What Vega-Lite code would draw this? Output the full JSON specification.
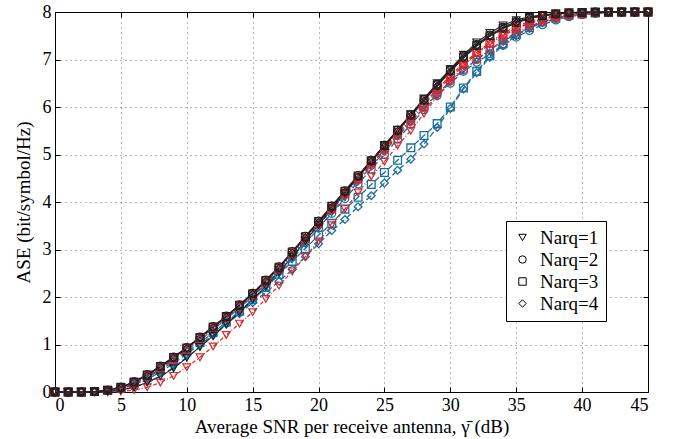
{
"$schema":"https://vega.github.io/schema/vega-lite/v6.json",
"width":593,"height":380,
"autosize":{"type":"none"},
"padding":{"left":55,"top":12,"right":40,"bottom":47},
"background":"white",
"config":{"font":"Liberation Serif","view":{"stroke":"black","strokeWidth":1},
"axis":{"labelFont":"Liberation Serif","titleFont":"Liberation Serif","labelFontSize":18,"titleFontSize":19,"titleFontWeight":"normal","labelColor":"black","titleColor":"black","domain":false,"tickColor":"black","tickSize":-5,"labelPadding":9}},
"data":{"values":[
{"g":"blue","n":1,"x":0,"y":0},{"g":"blue","n":1,"x":1,"y":0},{"g":"blue","n":1,"x":2,"y":0},{"g":"blue","n":1,"x":3,"y":0},{"g":"blue","n":1,"x":4,"y":0.01},{"g":"blue","n":1,"x":5,"y":0.04},{"g":"blue","n":1,"x":6,"y":0.1},{"g":"blue","n":1,"x":7,"y":0.2},{"g":"blue","n":1,"x":8,"y":0.34},{"g":"blue","n":1,"x":9,"y":0.52},{"g":"blue","n":1,"x":10,"y":0.73},{"g":"blue","n":1,"x":11,"y":0.95},{"g":"blue","n":1,"x":12,"y":1.18},{"g":"blue","n":1,"x":13,"y":1.42},{"g":"blue","n":1,"x":14,"y":1.67},{"g":"blue","n":1,"x":15,"y":1.93},{"g":"blue","n":1,"x":16,"y":2.2},{"g":"blue","n":1,"x":17,"y":2.49},{"g":"blue","n":1,"x":18,"y":2.8},{"g":"blue","n":1,"x":19,"y":3.12},{"g":"blue","n":1,"x":20,"y":3.45},{"g":"blue","n":1,"x":21,"y":3.78},{"g":"blue","n":1,"x":22,"y":4.1},{"g":"blue","n":1,"x":23,"y":4.43},{"g":"blue","n":1,"x":24,"y":4.75},{"g":"blue","n":1,"x":25,"y":5.06},{"g":"blue","n":1,"x":26,"y":5.38},{"g":"blue","n":1,"x":27,"y":5.68},{"g":"blue","n":1,"x":28,"y":5.98},{"g":"blue","n":1,"x":29,"y":6.27},{"g":"blue","n":1,"x":30,"y":6.54},{"g":"blue","n":1,"x":31,"y":6.78},{"g":"blue","n":1,"x":32,"y":7.0},{"g":"blue","n":1,"x":33,"y":7.2},{"g":"blue","n":1,"x":34,"y":7.38},{"g":"blue","n":1,"x":35,"y":7.54},{"g":"blue","n":1,"x":36,"y":7.67},{"g":"blue","n":1,"x":37,"y":7.77},{"g":"blue","n":1,"x":38,"y":7.85},{"g":"blue","n":1,"x":39,"y":7.91},{"g":"blue","n":1,"x":40,"y":7.95},{"g":"blue","n":1,"x":41,"y":7.97},{"g":"blue","n":1,"x":42,"y":7.99},{"g":"blue","n":1,"x":43,"y":8},{"g":"blue","n":1,"x":44,"y":8},{"g":"blue","n":1,"x":45,"y":8},
{"g":"blue","n":2,"x":0,"y":0},{"g":"blue","n":2,"x":1,"y":0},{"g":"blue","n":2,"x":2,"y":0},{"g":"blue","n":2,"x":3,"y":0.01},{"g":"blue","n":2,"x":4,"y":0.03},{"g":"blue","n":2,"x":5,"y":0.08},{"g":"blue","n":2,"x":6,"y":0.18},{"g":"blue","n":2,"x":7,"y":0.32},{"g":"blue","n":2,"x":8,"y":0.49},{"g":"blue","n":2,"x":9,"y":0.68},{"g":"blue","n":2,"x":10,"y":0.88},{"g":"blue","n":2,"x":11,"y":1.09},{"g":"blue","n":2,"x":12,"y":1.31},{"g":"blue","n":2,"x":13,"y":1.54},{"g":"blue","n":2,"x":14,"y":1.77},{"g":"blue","n":2,"x":15,"y":2.01},{"g":"blue","n":2,"x":16,"y":2.27},{"g":"blue","n":2,"x":17,"y":2.54},{"g":"blue","n":2,"x":18,"y":2.84},{"g":"blue","n":2,"x":19,"y":3.14},{"g":"blue","n":2,"x":20,"y":3.45},{"g":"blue","n":2,"x":21,"y":3.76},{"g":"blue","n":2,"x":22,"y":4.07},{"g":"blue","n":2,"x":23,"y":4.38},{"g":"blue","n":2,"x":24,"y":4.69},{"g":"blue","n":2,"x":25,"y":5.0},{"g":"blue","n":2,"x":26,"y":5.32},{"g":"blue","n":2,"x":27,"y":5.63},{"g":"blue","n":2,"x":28,"y":5.94},{"g":"blue","n":2,"x":29,"y":6.24},{"g":"blue","n":2,"x":30,"y":6.5},{"g":"blue","n":2,"x":31,"y":6.75},{"g":"blue","n":2,"x":32,"y":6.94},{"g":"blue","n":2,"x":33,"y":7.12},{"g":"blue","n":2,"x":34,"y":7.3},{"g":"blue","n":2,"x":35,"y":7.47},{"g":"blue","n":2,"x":36,"y":7.61},{"g":"blue","n":2,"x":37,"y":7.73},{"g":"blue","n":2,"x":38,"y":7.83},{"g":"blue","n":2,"x":39,"y":7.9},{"g":"blue","n":2,"x":40,"y":7.94},{"g":"blue","n":2,"x":41,"y":7.97},{"g":"blue","n":2,"x":42,"y":7.99},{"g":"blue","n":2,"x":43,"y":8},{"g":"blue","n":2,"x":44,"y":8},{"g":"blue","n":2,"x":45,"y":8},
{"g":"blue","n":3,"x":0,"y":0},{"g":"blue","n":3,"x":1,"y":0},{"g":"blue","n":3,"x":2,"y":0},{"g":"blue","n":3,"x":3,"y":0.01},{"g":"blue","n":3,"x":4,"y":0.03},{"g":"blue","n":3,"x":5,"y":0.08},{"g":"blue","n":3,"x":6,"y":0.17},{"g":"blue","n":3,"x":7,"y":0.3},{"g":"blue","n":3,"x":8,"y":0.46},{"g":"blue","n":3,"x":9,"y":0.64},{"g":"blue","n":3,"x":10,"y":0.84},{"g":"blue","n":3,"x":11,"y":1.04},{"g":"blue","n":3,"x":12,"y":1.25},{"g":"blue","n":3,"x":13,"y":1.47},{"g":"blue","n":3,"x":14,"y":1.7},{"g":"blue","n":3,"x":15,"y":1.95},{"g":"blue","n":3,"x":16,"y":2.2},{"g":"blue","n":3,"x":17,"y":2.48},{"g":"blue","n":3,"x":18,"y":2.75},{"g":"blue","n":3,"x":19,"y":3.02},{"g":"blue","n":3,"x":20,"y":3.3},{"g":"blue","n":3,"x":21,"y":3.55},{"g":"blue","n":3,"x":22,"y":3.85},{"g":"blue","n":3,"x":23,"y":4.1},{"g":"blue","n":3,"x":24,"y":4.37},{"g":"blue","n":3,"x":25,"y":4.62},{"g":"blue","n":3,"x":26,"y":4.88},{"g":"blue","n":3,"x":27,"y":5.14},{"g":"blue","n":3,"x":28,"y":5.4},{"g":"blue","n":3,"x":29,"y":5.65},{"g":"blue","n":3,"x":30,"y":6.0},{"g":"blue","n":3,"x":31,"y":6.4},{"g":"blue","n":3,"x":32,"y":6.75},{"g":"blue","n":3,"x":33,"y":7.08},{"g":"blue","n":3,"x":34,"y":7.33},{"g":"blue","n":3,"x":35,"y":7.52},{"g":"blue","n":3,"x":36,"y":7.67},{"g":"blue","n":3,"x":37,"y":7.79},{"g":"blue","n":3,"x":38,"y":7.87},{"g":"blue","n":3,"x":39,"y":7.93},{"g":"blue","n":3,"x":40,"y":7.96},{"g":"blue","n":3,"x":41,"y":7.98},{"g":"blue","n":3,"x":42,"y":7.99},{"g":"blue","n":3,"x":43,"y":8},{"g":"blue","n":3,"x":44,"y":8},{"g":"blue","n":3,"x":45,"y":8},
{"g":"blue","n":4,"x":0,"y":0},{"g":"blue","n":4,"x":1,"y":0},{"g":"blue","n":4,"x":2,"y":0},{"g":"blue","n":4,"x":3,"y":0.01},{"g":"blue","n":4,"x":4,"y":0.03},{"g":"blue","n":4,"x":5,"y":0.07},{"g":"blue","n":4,"x":6,"y":0.15},{"g":"blue","n":4,"x":7,"y":0.27},{"g":"blue","n":4,"x":8,"y":0.42},{"g":"blue","n":4,"x":9,"y":0.6},{"g":"blue","n":4,"x":10,"y":0.8},{"g":"blue","n":4,"x":11,"y":1.0},{"g":"blue","n":4,"x":12,"y":1.2},{"g":"blue","n":4,"x":13,"y":1.43},{"g":"blue","n":4,"x":14,"y":1.65},{"g":"blue","n":4,"x":15,"y":1.88},{"g":"blue","n":4,"x":16,"y":2.1},{"g":"blue","n":4,"x":17,"y":2.33},{"g":"blue","n":4,"x":18,"y":2.58},{"g":"blue","n":4,"x":19,"y":2.85},{"g":"blue","n":4,"x":20,"y":3.12},{"g":"blue","n":4,"x":21,"y":3.4},{"g":"blue","n":4,"x":22,"y":3.63},{"g":"blue","n":4,"x":23,"y":3.9},{"g":"blue","n":4,"x":24,"y":4.13},{"g":"blue","n":4,"x":25,"y":4.4},{"g":"blue","n":4,"x":26,"y":4.67},{"g":"blue","n":4,"x":27,"y":4.9},{"g":"blue","n":4,"x":28,"y":5.22},{"g":"blue","n":4,"x":29,"y":5.57},{"g":"blue","n":4,"x":30,"y":5.97},{"g":"blue","n":4,"x":31,"y":6.38},{"g":"blue","n":4,"x":32,"y":6.72},{"g":"blue","n":4,"x":33,"y":7.05},{"g":"blue","n":4,"x":34,"y":7.3},{"g":"blue","n":4,"x":35,"y":7.5},{"g":"blue","n":4,"x":36,"y":7.66},{"g":"blue","n":4,"x":37,"y":7.78},{"g":"blue","n":4,"x":38,"y":7.87},{"g":"blue","n":4,"x":39,"y":7.93},{"g":"blue","n":4,"x":40,"y":7.96},{"g":"blue","n":4,"x":41,"y":7.98},{"g":"blue","n":4,"x":42,"y":7.99},{"g":"blue","n":4,"x":43,"y":8},{"g":"blue","n":4,"x":44,"y":8},{"g":"blue","n":4,"x":45,"y":8},
{"g":"red","n":1,"x":0,"y":0},{"g":"red","n":1,"x":1,"y":0},{"g":"red","n":1,"x":2,"y":0},{"g":"red","n":1,"x":3,"y":0},{"g":"red","n":1,"x":4,"y":0},{"g":"red","n":1,"x":5,"y":0.01},{"g":"red","n":1,"x":6,"y":0.04},{"g":"red","n":1,"x":7,"y":0.1},{"g":"red","n":1,"x":8,"y":0.2},{"g":"red","n":1,"x":9,"y":0.34},{"g":"red","n":1,"x":10,"y":0.52},{"g":"red","n":1,"x":11,"y":0.73},{"g":"red","n":1,"x":12,"y":0.96},{"g":"red","n":1,"x":13,"y":1.2},{"g":"red","n":1,"x":14,"y":1.44},{"g":"red","n":1,"x":15,"y":1.68},{"g":"red","n":1,"x":16,"y":1.96},{"g":"red","n":1,"x":17,"y":2.24},{"g":"red","n":1,"x":18,"y":2.54},{"g":"red","n":1,"x":19,"y":2.85},{"g":"red","n":1,"x":20,"y":3.17},{"g":"red","n":1,"x":21,"y":3.51},{"g":"red","n":1,"x":22,"y":3.85},{"g":"red","n":1,"x":23,"y":4.2},{"g":"red","n":1,"x":24,"y":4.54},{"g":"red","n":1,"x":25,"y":4.85},{"g":"red","n":1,"x":26,"y":5.19},{"g":"red","n":1,"x":27,"y":5.5},{"g":"red","n":1,"x":28,"y":5.86},{"g":"red","n":1,"x":29,"y":6.22},{"g":"red","n":1,"x":30,"y":6.52},{"g":"red","n":1,"x":31,"y":6.88},{"g":"red","n":1,"x":32,"y":7.13},{"g":"red","n":1,"x":33,"y":7.36},{"g":"red","n":1,"x":34,"y":7.55},{"g":"red","n":1,"x":35,"y":7.7},{"g":"red","n":1,"x":36,"y":7.8},{"g":"red","n":1,"x":37,"y":7.88},{"g":"red","n":1,"x":38,"y":7.93},{"g":"red","n":1,"x":39,"y":7.96},{"g":"red","n":1,"x":40,"y":7.98},{"g":"red","n":1,"x":41,"y":7.99},{"g":"red","n":1,"x":42,"y":8},{"g":"red","n":1,"x":43,"y":8},{"g":"red","n":1,"x":44,"y":8},{"g":"red","n":1,"x":45,"y":8},
{"g":"red","n":2,"x":0,"y":0},{"g":"red","n":2,"x":1,"y":0},{"g":"red","n":2,"x":2,"y":0},{"g":"red","n":2,"x":3,"y":0.01},{"g":"red","n":2,"x":4,"y":0.03},{"g":"red","n":2,"x":5,"y":0.08},{"g":"red","n":2,"x":6,"y":0.18},{"g":"red","n":2,"x":7,"y":0.32},{"g":"red","n":2,"x":8,"y":0.49},{"g":"red","n":2,"x":9,"y":0.68},{"g":"red","n":2,"x":10,"y":0.88},{"g":"red","n":2,"x":11,"y":1.1},{"g":"red","n":2,"x":12,"y":1.32},{"g":"red","n":2,"x":13,"y":1.55},{"g":"red","n":2,"x":14,"y":1.79},{"g":"red","n":2,"x":15,"y":2.03},{"g":"red","n":2,"x":16,"y":2.3},{"g":"red","n":2,"x":17,"y":2.58},{"g":"red","n":2,"x":18,"y":2.89},{"g":"red","n":2,"x":19,"y":3.2},{"g":"red","n":2,"x":20,"y":3.52},{"g":"red","n":2,"x":21,"y":3.83},{"g":"red","n":2,"x":22,"y":4.15},{"g":"red","n":2,"x":23,"y":4.46},{"g":"red","n":2,"x":24,"y":4.77},{"g":"red","n":2,"x":25,"y":5.08},{"g":"red","n":2,"x":26,"y":5.4},{"g":"red","n":2,"x":27,"y":5.7},{"g":"red","n":2,"x":28,"y":6.0},{"g":"red","n":2,"x":29,"y":6.28},{"g":"red","n":2,"x":30,"y":6.55},{"g":"red","n":2,"x":31,"y":6.78},{"g":"red","n":2,"x":32,"y":7.0},{"g":"red","n":2,"x":33,"y":7.2},{"g":"red","n":2,"x":34,"y":7.4},{"g":"red","n":2,"x":35,"y":7.57},{"g":"red","n":2,"x":36,"y":7.7},{"g":"red","n":2,"x":37,"y":7.8},{"g":"red","n":2,"x":38,"y":7.88},{"g":"red","n":2,"x":39,"y":7.93},{"g":"red","n":2,"x":40,"y":7.96},{"g":"red","n":2,"x":41,"y":7.98},{"g":"red","n":2,"x":42,"y":7.99},{"g":"red","n":2,"x":43,"y":8},{"g":"red","n":2,"x":44,"y":8},{"g":"red","n":2,"x":45,"y":8},
{"g":"red","n":3,"x":0,"y":0},{"g":"red","n":3,"x":1,"y":0},{"g":"red","n":3,"x":2,"y":0},{"g":"red","n":3,"x":3,"y":0.01},{"g":"red","n":3,"x":4,"y":0.04},{"g":"red","n":3,"x":5,"y":0.09},{"g":"red","n":3,"x":6,"y":0.2},{"g":"red","n":3,"x":7,"y":0.34},{"g":"red","n":3,"x":8,"y":0.52},{"g":"red","n":3,"x":9,"y":0.71},{"g":"red","n":3,"x":10,"y":0.91},{"g":"red","n":3,"x":11,"y":1.13},{"g":"red","n":3,"x":12,"y":1.35},{"g":"red","n":3,"x":13,"y":1.57},{"g":"red","n":3,"x":14,"y":1.81},{"g":"red","n":3,"x":15,"y":2.05},{"g":"red","n":3,"x":16,"y":2.32},{"g":"red","n":3,"x":17,"y":2.6},{"g":"red","n":3,"x":18,"y":2.92},{"g":"red","n":3,"x":19,"y":3.23},{"g":"red","n":3,"x":20,"y":3.55},{"g":"red","n":3,"x":21,"y":3.87},{"g":"red","n":3,"x":22,"y":4.19},{"g":"red","n":3,"x":23,"y":4.5},{"g":"red","n":3,"x":24,"y":4.82},{"g":"red","n":3,"x":25,"y":5.14},{"g":"red","n":3,"x":26,"y":5.46},{"g":"red","n":3,"x":27,"y":5.77},{"g":"red","n":3,"x":28,"y":6.08},{"g":"red","n":3,"x":29,"y":6.38},{"g":"red","n":3,"x":30,"y":6.66},{"g":"red","n":3,"x":31,"y":6.92},{"g":"red","n":3,"x":32,"y":7.15},{"g":"red","n":3,"x":33,"y":7.35},{"g":"red","n":3,"x":34,"y":7.52},{"g":"red","n":3,"x":35,"y":7.66},{"g":"red","n":3,"x":36,"y":7.77},{"g":"red","n":3,"x":37,"y":7.85},{"g":"red","n":3,"x":38,"y":7.91},{"g":"red","n":3,"x":39,"y":7.95},{"g":"red","n":3,"x":40,"y":7.97},{"g":"red","n":3,"x":41,"y":7.99},{"g":"red","n":3,"x":42,"y":8},{"g":"red","n":3,"x":43,"y":8},{"g":"red","n":3,"x":44,"y":8},{"g":"red","n":3,"x":45,"y":8},
{"g":"red","n":4,"x":0,"y":0},{"g":"red","n":4,"x":1,"y":0},{"g":"red","n":4,"x":2,"y":0},{"g":"red","n":4,"x":3,"y":0.01},{"g":"red","n":4,"x":4,"y":0.03},{"g":"red","n":4,"x":5,"y":0.09},{"g":"red","n":4,"x":6,"y":0.19},{"g":"red","n":4,"x":7,"y":0.33},{"g":"red","n":4,"x":8,"y":0.51},{"g":"red","n":4,"x":9,"y":0.7},{"g":"red","n":4,"x":10,"y":0.9},{"g":"red","n":4,"x":11,"y":1.12},{"g":"red","n":4,"x":12,"y":1.34},{"g":"red","n":4,"x":13,"y":1.56},{"g":"red","n":4,"x":14,"y":1.8},{"g":"red","n":4,"x":15,"y":2.04},{"g":"red","n":4,"x":16,"y":2.31},{"g":"red","n":4,"x":17,"y":2.59},{"g":"red","n":4,"x":18,"y":2.9},{"g":"red","n":4,"x":19,"y":3.21},{"g":"red","n":4,"x":20,"y":3.53},{"g":"red","n":4,"x":21,"y":3.85},{"g":"red","n":4,"x":22,"y":4.16},{"g":"red","n":4,"x":23,"y":4.48},{"g":"red","n":4,"x":24,"y":4.79},{"g":"red","n":4,"x":25,"y":5.11},{"g":"red","n":4,"x":26,"y":5.43},{"g":"red","n":4,"x":27,"y":5.74},{"g":"red","n":4,"x":28,"y":6.04},{"g":"red","n":4,"x":29,"y":6.34},{"g":"red","n":4,"x":30,"y":6.62},{"g":"red","n":4,"x":31,"y":6.88},{"g":"red","n":4,"x":32,"y":7.12},{"g":"red","n":4,"x":33,"y":7.32},{"g":"red","n":4,"x":34,"y":7.5},{"g":"red","n":4,"x":35,"y":7.64},{"g":"red","n":4,"x":36,"y":7.76},{"g":"red","n":4,"x":37,"y":7.84},{"g":"red","n":4,"x":38,"y":7.9},{"g":"red","n":4,"x":39,"y":7.94},{"g":"red","n":4,"x":40,"y":7.97},{"g":"red","n":4,"x":41,"y":7.99},{"g":"red","n":4,"x":42,"y":8},{"g":"red","n":4,"x":43,"y":8},{"g":"red","n":4,"x":44,"y":8},{"g":"red","n":4,"x":45,"y":8},
{"g":"black","n":1,"x":0,"y":0},{"g":"black","n":1,"x":1,"y":0},{"g":"black","n":1,"x":2,"y":0},{"g":"black","n":1,"x":3,"y":0},{"g":"black","n":1,"x":4,"y":0.01},{"g":"black","n":1,"x":5,"y":0.04},{"g":"black","n":1,"x":6,"y":0.1},{"g":"black","n":1,"x":7,"y":0.2},{"g":"black","n":1,"x":8,"y":0.33},{"g":"black","n":1,"x":9,"y":0.5},{"g":"black","n":1,"x":10,"y":0.72},{"g":"black","n":1,"x":11,"y":0.95},{"g":"black","n":1,"x":12,"y":1.18},{"g":"black","n":1,"x":13,"y":1.43},{"g":"black","n":1,"x":14,"y":1.68},{"g":"black","n":1,"x":15,"y":1.95},{"g":"black","n":1,"x":16,"y":2.23},{"g":"black","n":1,"x":17,"y":2.52},{"g":"black","n":1,"x":18,"y":2.85},{"g":"black","n":1,"x":19,"y":3.18},{"g":"black","n":1,"x":20,"y":3.52},{"g":"black","n":1,"x":21,"y":3.85},{"g":"black","n":1,"x":22,"y":4.18},{"g":"black","n":1,"x":23,"y":4.52},{"g":"black","n":1,"x":24,"y":4.86},{"g":"black","n":1,"x":25,"y":5.19},{"g":"black","n":1,"x":26,"y":5.52},{"g":"black","n":1,"x":27,"y":5.85},{"g":"black","n":1,"x":28,"y":6.18},{"g":"black","n":1,"x":29,"y":6.5},{"g":"black","n":1,"x":30,"y":6.8},{"g":"black","n":1,"x":31,"y":7.1},{"g":"black","n":1,"x":32,"y":7.36},{"g":"black","n":1,"x":33,"y":7.56},{"g":"black","n":1,"x":34,"y":7.72},{"g":"black","n":1,"x":35,"y":7.83},{"g":"black","n":1,"x":36,"y":7.9},{"g":"black","n":1,"x":37,"y":7.94},{"g":"black","n":1,"x":38,"y":7.97},{"g":"black","n":1,"x":39,"y":7.99},{"g":"black","n":1,"x":40,"y":8},{"g":"black","n":1,"x":41,"y":8},{"g":"black","n":1,"x":42,"y":8},{"g":"black","n":1,"x":43,"y":8},{"g":"black","n":1,"x":44,"y":8},{"g":"black","n":1,"x":45,"y":8},
{"g":"black","n":2,"x":0,"y":0},{"g":"black","n":2,"x":1,"y":0},{"g":"black","n":2,"x":2,"y":0},{"g":"black","n":2,"x":3,"y":0.01},{"g":"black","n":2,"x":4,"y":0.04},{"g":"black","n":2,"x":5,"y":0.1},{"g":"black","n":2,"x":6,"y":0.22},{"g":"black","n":2,"x":7,"y":0.37},{"g":"black","n":2,"x":8,"y":0.55},{"g":"black","n":2,"x":9,"y":0.74},{"g":"black","n":2,"x":10,"y":0.94},{"g":"black","n":2,"x":11,"y":1.16},{"g":"black","n":2,"x":12,"y":1.38},{"g":"black","n":2,"x":13,"y":1.6},{"g":"black","n":2,"x":14,"y":1.84},{"g":"black","n":2,"x":15,"y":2.08},{"g":"black","n":2,"x":16,"y":2.36},{"g":"black","n":2,"x":17,"y":2.64},{"g":"black","n":2,"x":18,"y":2.96},{"g":"black","n":2,"x":19,"y":3.28},{"g":"black","n":2,"x":20,"y":3.6},{"g":"black","n":2,"x":21,"y":3.92},{"g":"black","n":2,"x":22,"y":4.24},{"g":"black","n":2,"x":23,"y":4.56},{"g":"black","n":2,"x":24,"y":4.88},{"g":"black","n":2,"x":25,"y":5.2},{"g":"black","n":2,"x":26,"y":5.52},{"g":"black","n":2,"x":27,"y":5.84},{"g":"black","n":2,"x":28,"y":6.16},{"g":"black","n":2,"x":29,"y":6.48},{"g":"black","n":2,"x":30,"y":6.78},{"g":"black","n":2,"x":31,"y":7.07},{"g":"black","n":2,"x":32,"y":7.32},{"g":"black","n":2,"x":33,"y":7.52},{"g":"black","n":2,"x":34,"y":7.68},{"g":"black","n":2,"x":35,"y":7.8},{"g":"black","n":2,"x":36,"y":7.88},{"g":"black","n":2,"x":37,"y":7.93},{"g":"black","n":2,"x":38,"y":7.96},{"g":"black","n":2,"x":39,"y":7.98},{"g":"black","n":2,"x":40,"y":7.99},{"g":"black","n":2,"x":41,"y":8},{"g":"black","n":2,"x":42,"y":8},{"g":"black","n":2,"x":43,"y":8},{"g":"black","n":2,"x":44,"y":8},{"g":"black","n":2,"x":45,"y":8},
{"g":"black","n":3,"x":0,"y":0},{"g":"black","n":3,"x":1,"y":0},{"g":"black","n":3,"x":2,"y":0},{"g":"black","n":3,"x":3,"y":0.01},{"g":"black","n":3,"x":4,"y":0.04},{"g":"black","n":3,"x":5,"y":0.1},{"g":"black","n":3,"x":6,"y":0.21},{"g":"black","n":3,"x":7,"y":0.36},{"g":"black","n":3,"x":8,"y":0.54},{"g":"black","n":3,"x":9,"y":0.73},{"g":"black","n":3,"x":10,"y":0.93},{"g":"black","n":3,"x":11,"y":1.15},{"g":"black","n":3,"x":12,"y":1.37},{"g":"black","n":3,"x":13,"y":1.59},{"g":"black","n":3,"x":14,"y":1.83},{"g":"black","n":3,"x":15,"y":2.07},{"g":"black","n":3,"x":16,"y":2.35},{"g":"black","n":3,"x":17,"y":2.63},{"g":"black","n":3,"x":18,"y":2.95},{"g":"black","n":3,"x":19,"y":3.27},{"g":"black","n":3,"x":20,"y":3.59},{"g":"black","n":3,"x":21,"y":3.91},{"g":"black","n":3,"x":22,"y":4.23},{"g":"black","n":3,"x":23,"y":4.55},{"g":"black","n":3,"x":24,"y":4.87},{"g":"black","n":3,"x":25,"y":5.19},{"g":"black","n":3,"x":26,"y":5.51},{"g":"black","n":3,"x":27,"y":5.83},{"g":"black","n":3,"x":28,"y":6.15},{"g":"black","n":3,"x":29,"y":6.46},{"g":"black","n":3,"x":30,"y":6.76},{"g":"black","n":3,"x":31,"y":7.05},{"g":"black","n":3,"x":32,"y":7.3},{"g":"black","n":3,"x":33,"y":7.5},{"g":"black","n":3,"x":34,"y":7.66},{"g":"black","n":3,"x":35,"y":7.78},{"g":"black","n":3,"x":36,"y":7.87},{"g":"black","n":3,"x":37,"y":7.92},{"g":"black","n":3,"x":38,"y":7.96},{"g":"black","n":3,"x":39,"y":7.98},{"g":"black","n":3,"x":40,"y":7.99},{"g":"black","n":3,"x":41,"y":8},{"g":"black","n":3,"x":42,"y":8},{"g":"black","n":3,"x":43,"y":8},{"g":"black","n":3,"x":44,"y":8},{"g":"black","n":3,"x":45,"y":8},
{"g":"black","n":4,"x":0,"y":0},{"g":"black","n":4,"x":1,"y":0},{"g":"black","n":4,"x":2,"y":0},{"g":"black","n":4,"x":3,"y":0.01},{"g":"black","n":4,"x":4,"y":0.04},{"g":"black","n":4,"x":5,"y":0.1},{"g":"black","n":4,"x":6,"y":0.21},{"g":"black","n":4,"x":7,"y":0.35},{"g":"black","n":4,"x":8,"y":0.53},{"g":"black","n":4,"x":9,"y":0.72},{"g":"black","n":4,"x":10,"y":0.92},{"g":"black","n":4,"x":11,"y":1.14},{"g":"black","n":4,"x":12,"y":1.36},{"g":"black","n":4,"x":13,"y":1.58},{"g":"black","n":4,"x":14,"y":1.82},{"g":"black","n":4,"x":15,"y":2.06},{"g":"black","n":4,"x":16,"y":2.33},{"g":"black","n":4,"x":17,"y":2.61},{"g":"black","n":4,"x":18,"y":2.93},{"g":"black","n":4,"x":19,"y":3.25},{"g":"black","n":4,"x":20,"y":3.57},{"g":"black","n":4,"x":21,"y":3.89},{"g":"black","n":4,"x":22,"y":4.21},{"g":"black","n":4,"x":23,"y":4.53},{"g":"black","n":4,"x":24,"y":4.85},{"g":"black","n":4,"x":25,"y":5.17},{"g":"black","n":4,"x":26,"y":5.49},{"g":"black","n":4,"x":27,"y":5.81},{"g":"black","n":4,"x":28,"y":6.13},{"g":"black","n":4,"x":29,"y":6.44},{"g":"black","n":4,"x":30,"y":6.74},{"g":"black","n":4,"x":31,"y":7.03},{"g":"black","n":4,"x":32,"y":7.28},{"g":"black","n":4,"x":33,"y":7.49},{"g":"black","n":4,"x":34,"y":7.65},{"g":"black","n":4,"x":35,"y":7.77},{"g":"black","n":4,"x":36,"y":7.86},{"g":"black","n":4,"x":37,"y":7.92},{"g":"black","n":4,"x":38,"y":7.95},{"g":"black","n":4,"x":39,"y":7.98},{"g":"black","n":4,"x":40,"y":7.99},{"g":"black","n":4,"x":41,"y":8},{"g":"black","n":4,"x":42,"y":8},{"g":"black","n":4,"x":43,"y":8},{"g":"black","n":4,"x":44,"y":8},{"g":"black","n":4,"x":45,"y":8}
]},
"layer":[
{"mark":{"type":"line"},
"encoding":{
"x":{"field":"x","type":"quantitative","scale":{"domain":[0,45],"nice":false},"axis":{"orient":"bottom","values":[0,5,10,15,20,25,30,35,40,45],"title":"Average SNR per receive antenna, γ̄ (dB)","titlePadding":3,"grid":true,"gridColor":"black","gridDash":[1,4],"gridOpacity":0.55}},
"y":{"field":"y","type":"quantitative","scale":{"domain":[0,8],"nice":false},"axis":{"orient":"left","values":[0,1,2,3,4,5,6,7,8],"title":"ASE (bit/symbol/Hz)","titlePadding":9,"grid":true,"gridColor":"black","gridDash":[1,4],"gridOpacity":0.55}},
"color":{"field":"g","type":"nominal","scale":{"domain":["blue","red","black"],"range":["#1a6e9e","#d7262b","#231f20"]},"legend":null},
"strokeDash":{"field":"g","type":"nominal","scale":{"domain":["blue","red","black"],"range":[[6,3],[4,2,1,2],[1,0]]},"legend":null},
"strokeWidth":{"field":"g","type":"nominal","scale":{"domain":["blue","red","black"],"range":[1.3,1.1,1.7]},"legend":null},
"detail":{"field":"n","type":"nominal"}}},
{"mark":{"type":"point","filled":false,"size":60,"opacity":1},
"encoding":{
"x":{"field":"x","type":"quantitative","axis":{"orient":"top","values":[0,5,10,15,20,25,30,35,40,45],"labels":false,"title":null,"grid":false}},
"y":{"field":"y","type":"quantitative","axis":{"orient":"right","values":[0,1,2,3,4,5,6,7,8],"labels":false,"title":null,"grid":false}},
"color":{"field":"g","type":"nominal","legend":null},
"strokeWidth":{"field":"g","type":"nominal","legend":null},
"shape":{"field":"n","type":"nominal","scale":{"domain":[1,2,3,4],"range":["triangle-down","circle","square","diamond"]},
"legend":{"orient":"none","legendX":451,"legendY":209,"title":null,"padding":7,"strokeColor":"black","fillColor":"white","symbolStrokeColor":"black","symbolFillColor":"transparent","symbolSize":55,"symbolStrokeWidth":1,"labelFont":"Liberation Serif","labelFontSize":19,"labelColor":"black","rowPadding":2,"labelOffset":8,"labelExpr":"'Narq=' + datum.label"}}}}
],
"resolve":{"axis":{"x":"independent","y":"independent"}}
}
